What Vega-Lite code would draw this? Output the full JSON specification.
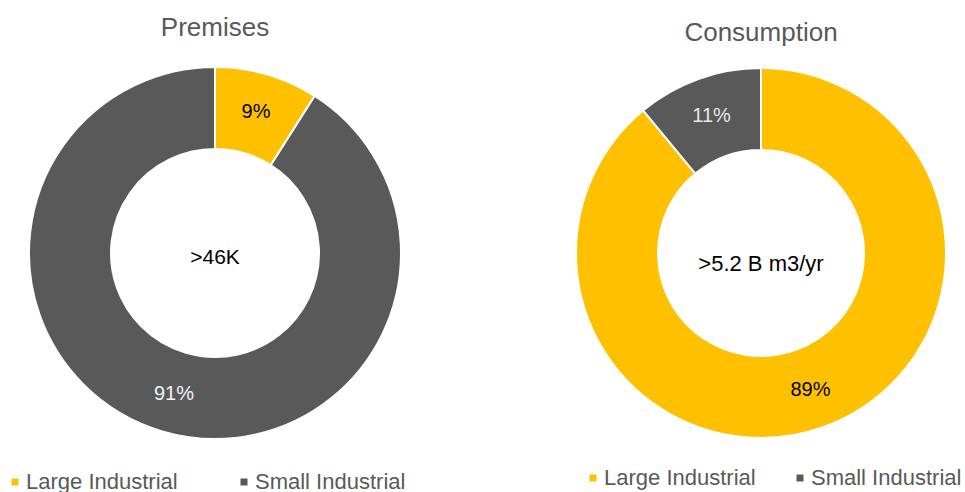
{
  "$schema": "https://vega.github.io/schema/vega-lite/v6.json",
  "padding": {"top": 15, "left": 0, "right": 0, "bottom": 0},
  "background": "white",
  "config": {
    "font": "Liberation Sans",
    "view": {"stroke": null},
    "title": {"fontSize": 26, "fontWeight": "normal", "color": "#595959", "font": "Liberation Sans"},
    "legend": {"labelFontSize": 22, "labelColor": "#595959", "labelFont": "Liberation Sans", "symbolType": "square", "symbolSize": 49, "symbolStrokeWidth": 0, "labelOffset": 0, "padding": 4}
  },
  "datasets": {
    "premises": [
      {"category": "Large Industrial", "value": 9, "label": "9%"},
      {"category": "Small Industrial", "value": 91, "label": "91%"}
    ],
    "consumption": [
      {"category": "Large Industrial", "value": 89, "label": "89%"},
      {"category": "Small Industrial", "value": 11, "label": "11%"}
    ]
  },
  "spacing": 142,
  "resolve": {"legend": {"color": "independent"}, "scale": {"color": "independent"}},
  "hconcat": [
    {
      "title": {"text": "Premises", "offset": 12},
      "width": 430,
      "height": 400,
      "layer": [
        {
          "data": {"name": "premises"},
          "mark": {"type": "arc", "innerRadius": 104, "outerRadius": 186, "stroke": "white", "strokeWidth": 2},
          "encoding": {
            "theta": {"field": "value", "type": "quantitative", "stack": true},
            "order": {"field": "category", "type": "nominal", "sort": "ascending"},
            "color": {
              "field": "category", "type": "nominal",
              "scale": {"domain": ["Large Industrial", "Small Industrial"], "range": ["#FFC000", "#595959"]},
              "legend": {"orient": "bottom", "direction": "horizontal", "title": null, "offset": 14, "columnPadding": 55}
            }
          }
        },
        {
          "data": {"name": "premises"},
          "mark": {"type": "text", "radius": 147, "fontSize": 20, "font": "Liberation Sans"},
          "encoding": {
            "theta": {"field": "value", "type": "quantitative", "stack": true},
            "order": {"field": "category", "type": "nominal", "sort": "ascending"},
            "text": {"field": "label", "type": "nominal"},
            "color": {"condition": {"test": "datum.category === 'Large Industrial'", "value": "#000000"}, "value": "#f2f2f2"}
          }
        },
        {
          "data": {"values": [{"center": ">46K"}]},
          "mark": {"type": "text", "fontSize": 21, "color": "#000000", "dy": 5, "font": "Liberation Sans"},
          "encoding": {"text": {"field": "center", "type": "nominal"}}
        }
      ]
    },
    {
      "title": {"text": "Consumption", "offset": 7},
      "width": 366,
      "height": 400,
      "layer": [
        {
          "data": {"name": "consumption"},
          "mark": {"type": "arc", "innerRadius": 103, "outerRadius": 185, "stroke": "white", "strokeWidth": 2},
          "encoding": {
            "theta": {"field": "value", "type": "quantitative", "stack": true},
            "order": {"field": "category", "type": "nominal", "sort": "ascending"},
            "color": {
              "field": "category", "type": "nominal",
              "scale": {"domain": ["Large Industrial", "Small Industrial"], "range": ["#FFC000", "#595959"]},
              "legend": {"orient": "bottom", "direction": "horizontal", "title": null, "offset": 10, "columnPadding": 33}
            }
          }
        },
        {
          "data": {"name": "consumption"},
          "mark": {"type": "text", "radius": 146, "fontSize": 20, "font": "Liberation Sans"},
          "encoding": {
            "theta": {"field": "value", "type": "quantitative", "stack": true},
            "order": {"field": "category", "type": "nominal", "sort": "ascending"},
            "text": {"field": "label", "type": "nominal"},
            "color": {"condition": {"test": "datum.category === 'Large Industrial'", "value": "#000000"}, "value": "#e8e8e8"}
          }
        },
        {
          "data": {"values": [{"center": ">5.2 B m3/yr"}]},
          "mark": {"type": "text", "fontSize": 22, "color": "#000000", "dy": 11, "font": "Liberation Sans"},
          "encoding": {"text": {"field": "center", "type": "nominal"}}
        }
      ]
    }
  ]
}
